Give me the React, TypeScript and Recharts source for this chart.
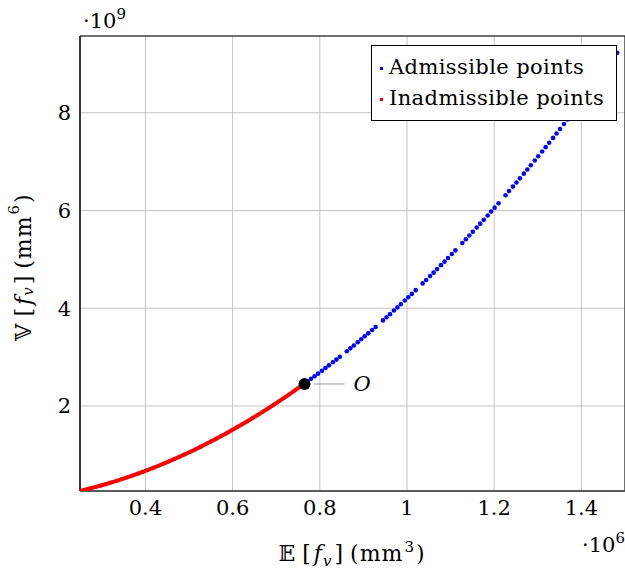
import { CartesianGrid, Legend, ReferenceArea, Scatter, ScatterChart, XAxis, YAxis } from "recharts";

const FONT = '"DejaVu Serif", "Liberation Serif", serif';
const FONT_SIZE = 21;
const SMALL = 15;

// E[f_v] in 1e6 mm^3, V[f_v] in 1e9 mm^6
const inadmissibleX = [
  0.25, 0.262, 0.274, 0.286, 0.298, 0.31, 0.322, 0.334, 0.346, 0.358, 0.37, 0.382, 0.394, 0.406, 0.418,
  0.43, 0.442, 0.454, 0.466, 0.478, 0.49, 0.502, 0.514, 0.526, 0.538, 0.55, 0.562, 0.574, 0.586, 0.598,
  0.61, 0.622, 0.634, 0.646, 0.658, 0.67, 0.682, 0.694, 0.706, 0.718, 0.73, 0.742, 0.754,
];
const inadmissibleY = [
  0.263, 0.288, 0.315, 0.344, 0.373, 0.404, 0.435, 0.469, 0.503, 0.538, 0.575, 0.613, 0.652, 0.692, 0.734,
  0.777, 0.821, 0.866, 0.912, 0.96, 1.008, 1.058, 1.11, 1.162, 1.216, 1.271, 1.327, 1.384, 1.442, 1.502,
  1.563, 1.625, 1.688, 1.753, 1.818, 1.885, 1.954, 2.023, 2.093, 2.165, 2.238, 2.312, 2.388,
];

const admissibleX = [
  0.772, 0.78, 0.788, 0.796, 0.805, 0.813, 0.821, 0.83, 0.838, 0.846,
  0.862, 0.87, 0.878, 0.887, 0.895, 0.903, 0.911, 0.92, 0.928,
  0.945, 0.953, 0.961, 0.97, 0.978, 0.986, 0.995, 1.003, 1.011, 1.02,
  1.036, 1.044, 1.053, 1.061, 1.069, 1.078, 1.086, 1.094, 1.103, 1.111,
  1.127, 1.135, 1.143, 1.151, 1.16, 1.168, 1.176, 1.185, 1.193, 1.201, 1.21,
  1.226, 1.234, 1.243, 1.251, 1.259, 1.268, 1.276, 1.284, 1.293, 1.301, 1.31,
  1.318, 1.326, 1.335, 1.343, 1.351, 1.36, 1.368, 1.376, 1.385, 1.4, 1.42, 1.44, 1.46, 1.482,
];
const admissibleY = [
  2.503, 2.555, 2.608, 2.661, 2.722, 2.776, 2.831, 2.893, 2.949, 3.006,
  3.121, 3.179, 3.238, 3.304, 3.364, 3.425, 3.486, 3.555, 3.617,
  3.751, 3.814, 3.879, 3.952, 4.017, 4.083, 4.158, 4.225, 4.293, 4.37,
  4.508, 4.578, 4.657, 4.728, 4.8, 4.881, 4.953, 5.027, 5.11, 5.184,
  5.335, 5.411, 5.487, 5.564, 5.652, 5.73, 5.808, 5.898, 5.978, 6.058, 6.149,
  6.313, 6.396, 6.489, 6.573, 6.657, 6.753, 6.838, 6.924, 7.022, 7.109, 7.208,
  7.296, 7.385, 7.485, 7.575, 7.666, 7.768, 7.86, 7.952, 8.057, 8.232, 8.469, 8.709, 8.953, 9.225,
];

const optimumX = [0.765];
const optimumY = [2.45];

const xTicks = [0.4, 0.6, 0.8, 1, 1.2, 1.4];
const yTicks = [2, 4, 6, 8];
const xDomain: [number, number] = [0.25, 1.5];
const yDomain: [number, number] = [0.26, 9.57];

const series = [
  { name: "Admissible points", color: "#0000ff" },
  { name: "Inadmissible points", color: "#ff0000" },
];

const zip = (xs: number[], ys: number[]) => xs.map((x, i) => ({ x, y: ys[i] }));

const redData = zip(inadmissibleX, inadmissibleY);
const blueData = zip(admissibleX, admissibleY);
const optimumData = zip(optimumX, optimumY);

const tickStyle = { fontFamily: FONT, fontSize: FONT_SIZE, fill: "#000" };

const renderOptimum = (props: any) => {
  const { cx, cy } = props;
  return (
    <g>
      <line x1={cx + 9} x2={cx + 40} y1={cy} y2={cy} stroke="#9a9a9a" strokeWidth={1} />
      <circle cx={cx} cy={cy} r={6} fill="#000" />
      <text x={cx + 49} y={cy} dominantBaseline="central" fontFamily={FONT} fontSize={FONT_SIZE} fontStyle="italic">
        O
      </text>
    </g>
  );
};

const renderLegend = () => (
  <div
    style={{
      background: "#fff",
      border: "1px solid #000",
      boxSizing: "border-box",
      width: 246,
      height: 76,
      padding: "6px 8px 0 8px",
      fontFamily: FONT,
      fontSize: FONT_SIZE,
      lineHeight: "31px",
      color: "#000",
      whiteSpace: "nowrap",
      letterSpacing: 0.4,
    }}
  >
    {series.map((s) => (
      <div key={s.name}>
        <span
          style={{
            display: "inline-block",
            width: 3,
            height: 3,
            background: s.color,
            verticalAlign: "middle",
            marginRight: 6,
          }}
        />
        {s.name}
      </div>
    ))}
  </div>
);

// math-ish axis title: sym [f_v] (mm^p)
const axisTitle = (sym: string, power: string) => [
  <tspan key="a">{sym}</tspan>,
  <tspan key="b" dx={6}>[</tspan>,
  <tspan key="c" dx={2} fontStyle="italic">f</tspan>,
  <tspan key="d" fontStyle="italic" fontSize={SMALL} dy={5}>v</tspan>,
  <tspan key="e" dx={2} dy={-5}>]</tspan>,
  <tspan key="f" dx={6}>(mm</tspan>,
  <tspan key="g" dx={1} fontSize={SMALL} dy={-9}>{power}</tspan>,
  <tspan key="h" dx={1} dy={9}>)</tspan>,
];

const YLabel = () => (
  <text
    transform="translate(23, 267) rotate(-90)"
    textAnchor="middle"
    dominantBaseline="central"
    fontFamily={FONT}
    fontSize={FONT_SIZE + 1}
    letterSpacing={1}
    fill="#000"
  >
    {axisTitle("𝕍", "6")}
  </text>
);

const XLabel = () => (
  <text
    x={352}
    y={561}
    textAnchor="middle"
    fontFamily={FONT}
    fontSize={FONT_SIZE + 1}
    letterSpacing={1}
    fill="#000"
  >
    {axisTitle("𝔼", "3")}
  </text>
);

export default function App() {
  return (
    <div style={{ position: "absolute", left: 0, top: 0, width: 625, height: 571, background: "#fff" }}>
      <ScatterChart width={625} height={571} margin={{ top: 36, right: 0, bottom: 0, left: 0 }}>
        <CartesianGrid stroke="#c4c4c4" strokeWidth={1} />
        <XAxis
          type="number"
          dataKey="x"
          domain={xDomain}
          ticks={xTicks}
          allowDataOverflow
          height={80}
          tickLine={false}
          tickMargin={3}
          axisLine={{ stroke: "#555", strokeWidth: 1.5 }}
          tick={tickStyle}
          label={XLabel}
        />
        <YAxis
          type="number"
          dataKey="y"
          domain={yDomain}
          ticks={yTicks}
          allowDataOverflow
          width={80}
          tickLine={false}
          tickMargin={3}
          axisLine={{ stroke: "#000" }}
          tick={tickStyle}
          label={YLabel}
        />
        <ReferenceArea
          x1={xDomain[0]}
          x2={xDomain[1]}
          y1={yDomain[0]}
          y2={yDomain[1]}
          fill="none"
          stroke="#000"
          strokeWidth={1}
        />
        <Scatter
          name={series[1].name}
          data={redData}
          fill={series[1].color}
          line={{ stroke: series[1].color, strokeWidth: 4 }}
          shape={(p: any) => <circle cx={p.cx} cy={p.cy} r={2} fill={series[1].color} />}
          isAnimationActive={false}
        />
        <Scatter
          name={series[0].name}
          data={blueData}
          fill={series[0].color}
          shape={(p: any) => <circle cx={p.cx} cy={p.cy} r={2.3} fill={series[0].color} />}
          isAnimationActive={false}
        />
        <Scatter name="O" data={optimumData} shape={renderOptimum} isAnimationActive={false} legendType="none" />
        <Legend
          layout="vertical"
          align="center"
          verticalAlign="middle"
          wrapperStyle={{ top: 45, left: 371, width: 246 }}
          content={renderLegend}
        />
      </ScatterChart>
      <svg
        width={625}
        height={571}
        style={{ position: "absolute", left: 0, top: 0, pointerEvents: "none" }}
      >
        <text x={83} y={28} fontFamily={FONT} fontSize={FONT_SIZE} fill="#000">
          ·10<tspan fontSize={SMALL} dy={-9}>9</tspan>
        </text>
        <text x={582} y={552} fontFamily={FONT} fontSize={FONT_SIZE} fill="#000">
          ·10<tspan fontSize={SMALL} dy={-9}>6</tspan>
        </text>
      </svg>
    </div>
  );
}
